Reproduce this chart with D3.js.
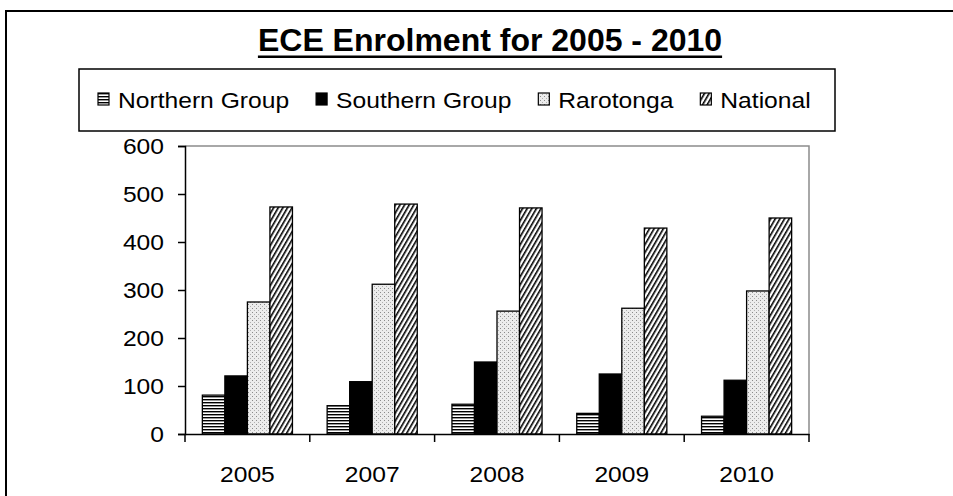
<!DOCTYPE html>
<html><head><meta charset="utf-8">
<script src="https://cdn.jsdelivr.net/npm/d3@7"></script>
<style>
html,body{margin:0;padding:0;background:#fff;}
svg{display:block;font-family:"Liberation Sans",Arial,sans-serif;}
</style></head>
<body>
<svg id="chart" width="953" height="496"></svg>
<script>
const categories = ["2005", "2007", "2008", "2009", "2010"];
const seriesNames = ["Northern Group", "Southern Group", "Rarotonga", "National"];
const northern = [81, 59, 62, 43, 37];
const southern = [121, 109, 150, 125, 112];
const rarotonga = [275, 312, 256, 262, 298];
const national = [473, 479, 471, 429, 450];
const yTicks = [0, 100, 200, 300, 400, 500, 600];
const titleText = "ECE Enrolment for 2005 - 2010";

const seriesValues = [northern, southern, rarotonga, national];
const fills = ["url(#pHoriz)", "#000", "url(#pDots)", "url(#pDiag)"];

const svg = d3.select("#chart");
const defs = svg.append("defs");

// patterns
const ph = defs.append("pattern").attr("id","pHoriz").attr("patternUnits","userSpaceOnUse")
  .attr("width",6).attr("height",3);
ph.append("rect").attr("width",6).attr("height",3).attr("fill","#fff");
ph.append("rect").attr("y",0).attr("width",6).attr("height",1.4).attr("fill","#000");

const pd = defs.append("pattern").attr("id","pDots").attr("patternUnits","userSpaceOnUse")
  .attr("width",4).attr("height",4);
pd.append("rect").attr("width",4).attr("height",4).attr("fill","#ececec");
pd.append("rect").attr("x",0).attr("y",0).attr("width",1).attr("height",1).attr("fill","#8a8a8a");
pd.append("rect").attr("x",2).attr("y",2).attr("width",1).attr("height",1).attr("fill","#b0b0b0");

const pg = defs.append("pattern").attr("id","pDiag").attr("patternUnits","userSpaceOnUse")
  .attr("width",4).attr("height",4).attr("patternTransform","rotate(30)");
pg.append("rect").attr("width",4).attr("height",4).attr("fill","#fff");
pg.append("rect").attr("x",0).attr("y",0).attr("width",1.6).attr("height",4).attr("fill","#000");

// outer frame (extends past right/bottom edges)
svg.append("rect").attr("x",6).attr("y",11).attr("width",1000).attr("height",600)
  .attr("fill","none").attr("stroke","#000").attr("stroke-width",2);

function stretchText(g, x, y, txt, size, sx, anchor, weight){
  const t = g.append("text")
    .attr("transform", `translate(${x},${y}) scale(${sx},1)`)
    .attr("text-anchor", anchor)
    .attr("font-size", size)
    .attr("fill","#000")
    .text(txt);
  if (weight) t.attr("font-weight", weight);
  return t;
}

// title
const titleG = svg.append("g");
const tSx = 1.0;
const tt = stretchText(titleG, 490, 51, titleText, 32, tSx, "middle", "bold");
const tw = tt.node().getComputedTextLength()*tSx;
titleG.append("rect").attr("x",490-tw/2).attr("y",55.5).attr("width",tw).attr("height",2.5).attr("fill","#000");

// scales
const plot = {left:185, right:809, top:146, bottom:434};
const x0 = d3.scaleBand().domain(categories).range([plot.left, plot.right]).padding(0);
const x1 = d3.scaleBand().domain(seriesNames).range([0, x0.bandwidth()]).paddingInner(0).paddingOuter(0.77);
const y = d3.scaleLinear().domain([0,600]).range([plot.bottom, plot.top]);

// plot border (top/right gray)
svg.append("path")
  .attr("d", `M${plot.left},${plot.top}H${plot.right}V${plot.bottom}`)
  .attr("fill","none").attr("stroke","#8c8c8c").attr("stroke-width",1.5);

// bars
const groups = svg.append("g").selectAll("g").data(seriesNames).join("g")
  .attr("fill", (d,i)=>fills[i]);
groups.selectAll("rect").data((s,i)=>categories.map((c,j)=>({c, s, v: seriesValues[i][j]})))
  .join("rect")
  .attr("x", d=>x0(d.c)+x1(d.s))
  .attr("y", d=>y(d.v))
  .attr("width", x1.bandwidth())
  .attr("height", d=>y(0)-y(d.v))
  .attr("stroke","#000").attr("stroke-width",1.3);

const axSize = 22, axSx = 1.12;
// y axis
const yAxis = svg.append("g").attr("transform",`translate(${plot.left},0)`)
  .call(d3.axisLeft(y).tickValues(yTicks).tickSize(7).tickFormat(""));
yAxis.select(".domain").attr("stroke","#000").attr("stroke-width",1.5);
yAxis.selectAll(".tick line").attr("stroke","#000").attr("stroke-width",1.5);
const yl = svg.append("g");
yTicks.forEach(v=>{
  stretchText(yl, 164, y(v)+8, String(v), axSize, axSx, "end");
});

// x axis
const xAxis = svg.append("g").attr("transform",`translate(0,${plot.bottom})`)
  .call(d3.axisBottom(x0).tickSize(0).tickFormat(""));
xAxis.select(".domain").attr("stroke","#000").attr("stroke-width",1.5);
xAxis.selectAll(".tick").remove();
const bounds = categories.map(c=>x0(c)).concat([x0(categories[categories.length-1])+x0.bandwidth()]);
xAxis.selectAll("line.bt").data(bounds).join("line").attr("class","bt")
  .attr("x1",d=>d).attr("x2",d=>d).attr("y1",0).attr("y2",8)
  .attr("stroke","#000").attr("stroke-width",1.5);
const xl = svg.append("g");
categories.forEach(c=>{
  stretchText(xl, x0(c)+x0.bandwidth()/2, 482, c, axSize, axSx, "middle");
});

// legend
const leg = svg.append("g");
leg.append("rect").attr("x",79).attr("y",69).attr("width",756).attr("height",62)
  .attr("fill","#fff").attr("stroke","#000").attr("stroke-width",1.5);
let lx = 98;
const gap = 27;
seriesNames.forEach((s,i)=>{
  leg.append("rect").attr("x",lx).attr("y",93).attr("width",11).attr("height",12)
    .attr("fill",fills[i]).attr("stroke","#000").attr("stroke-width",1.2);
  const t = stretchText(leg, lx+20, 108, s, axSize, axSx, "start");
  const w = t.node().getComputedTextLength()*axSx;
  lx = lx + 20 + w + gap;
});
</script>
</body></html>
